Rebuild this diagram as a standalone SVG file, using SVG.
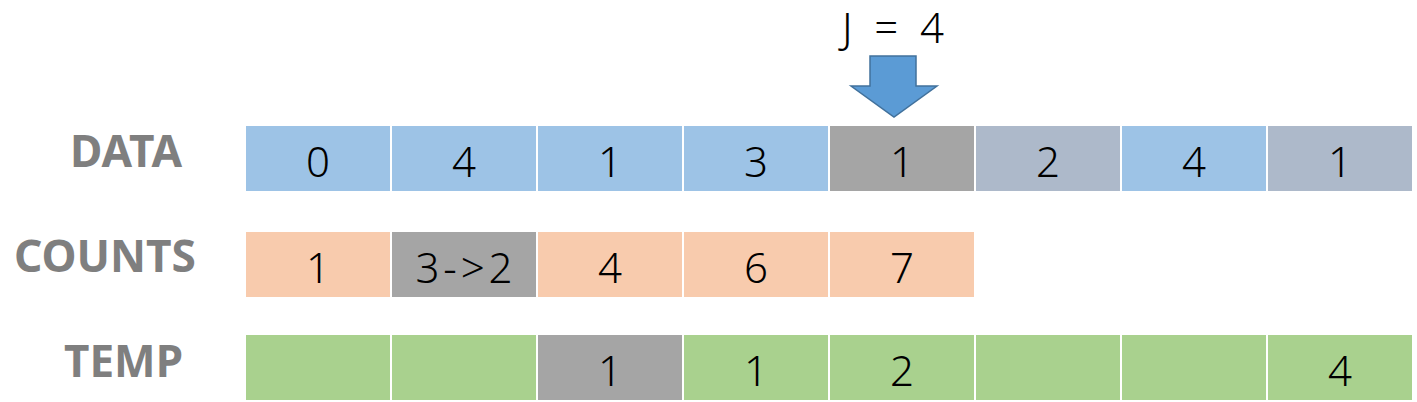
<svg xmlns="http://www.w3.org/2000/svg" width="1417" height="402" viewBox="0 0 1417 402">
<style>
.lbl{font-family:"Noto Sans","Liberation Sans",sans-serif;font-weight:bold;font-size:44px;fill:#7f7f7f}
.num{font-family:"Noto Sans","Liberation Sans",sans-serif;font-size:42px;font-weight:300;fill:#000;text-anchor:middle}
.blue{fill:#9dc3e6}.gray{fill:#a5a5a5}.gb{fill:#adb9ca}.peach{fill:#f8cbad}.green{fill:#a9d18e}
</style>
<rect width="1417" height="402" fill="#fff"/>
<g id="pointer">
<text class="num" x="893" y="43" font-size="38" xml:space="preserve">J  =  4</text>
<path d="M870,56 H916 V86 H937 L894,117 L851,86 H870 Z" fill="#5b9bd5" stroke="#41719c" stroke-width="1.5"/>
</g>
<g id="labels">
<text class="lbl" x="70" y="167" textLength="112" lengthAdjust="spacingAndGlyphs">DATA</text>
<text class="lbl" x="14" y="272" textLength="182" lengthAdjust="spacingAndGlyphs">COUNTS</text>
<text class="lbl" x="64" y="377" textLength="119" lengthAdjust="spacingAndGlyphs">TEMP</text>
</g>
<g id="data">
<rect class="blue" x="246" y="126" width="144" height="65"/><text class="num" x="318" y="177">0</text>
<rect class="blue" x="392" y="126" width="144" height="65"/><text class="num" x="464" y="177">4</text>
<rect class="blue" x="538" y="126" width="144" height="65"/><text class="num" x="610" y="177">1</text>
<rect class="blue" x="684" y="126" width="144" height="65"/><text class="num" x="756" y="177">3</text>
<rect class="gray" x="830" y="126" width="144" height="65"/><text class="num" x="902" y="177">1</text>
<rect class="gb" x="976" y="126" width="144" height="65"/><text class="num" x="1048" y="177">2</text>
<rect class="blue" x="1122" y="126" width="144" height="65"/><text class="num" x="1194" y="177">4</text>
<rect class="gb" x="1268" y="126" width="144" height="65"/><text class="num" x="1340" y="177">1</text>
</g>
<g id="counts">
<rect class="peach" x="246" y="232" width="144" height="65"/><text class="num" x="318" y="283">1</text>
<rect class="gray" x="392" y="232" width="144" height="65"/><text class="num" x="464" y="283" textLength="97">3-&gt;2</text>
<rect class="peach" x="538" y="232" width="144" height="65"/><text class="num" x="610" y="283">4</text>
<rect class="peach" x="684" y="232" width="144" height="65"/><text class="num" x="756" y="283">6</text>
<rect class="peach" x="830" y="232" width="144" height="65"/><text class="num" x="902" y="283">7</text>
</g>
<g id="temp">
<rect class="green" x="246" y="335" width="144" height="65"/>
<rect class="green" x="392" y="335" width="144" height="65"/>
<rect class="gray" x="538" y="335" width="144" height="65"/><text class="num" x="610" y="386">1</text>
<rect class="green" x="684" y="335" width="144" height="65"/><text class="num" x="756" y="386">1</text>
<rect class="green" x="830" y="335" width="144" height="65"/><text class="num" x="902" y="386">2</text>
<rect class="green" x="976" y="335" width="144" height="65"/>
<rect class="green" x="1122" y="335" width="144" height="65"/>
<rect class="green" x="1268" y="335" width="144" height="65"/><text class="num" x="1340" y="386">4</text>
</g>
<g id="connectors"/>
</svg>
